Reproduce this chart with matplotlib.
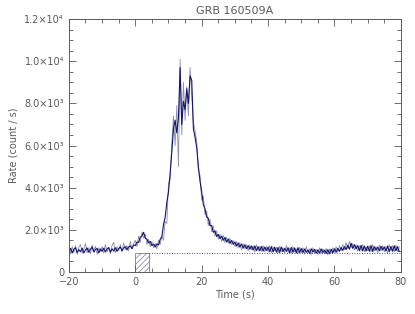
import numpy as np
import matplotlib
matplotlib.use("Agg")
import matplotlib.pyplot as plt

# light curve, 0.5 s bins from -20 s to 79.5 s
t_start, t_step = -20.0, 0.5
rate_main = [
    950, 1120, 900, 1080, 1150, 920, 1060, 960, 1130, 900, 1050, 1140, 930, 1080, 1180, 940, 1060, 1120, 900, 1090,
    980, 1130, 950, 1090, 1160, 940, 1100, 990, 1150, 980, 1110, 1180, 1000, 1140, 1200, 1050, 1190, 1230, 1100, 1280,
    1250, 1420, 1400, 1650, 1700, 1880, 1600, 1560, 1380, 1450, 1250, 1320, 1180, 1330, 1280, 1550, 1680, 2250, 2600, 3300,
    3800, 4700, 5700, 6800, 7200, 6600, 7300, 9700, 7000, 8100, 7700, 8700, 8000, 9300, 9100, 6800, 6400, 5900, 5000, 4300,
    3800, 3200, 3000, 2600, 2550, 2200, 2200, 1880, 1950, 1680, 1780, 1580, 1700, 1500, 1640, 1420, 1560, 1360, 1490, 1310,
    1420, 1230, 1370, 1180, 1320, 1130, 1290, 1100, 1250, 1080, 1230, 1040, 1230, 1010, 1200, 1000, 1210, 990, 1180, 1020,
    1180, 960, 1200, 950, 1170, 940, 1160, 930, 1180, 960, 1120, 980, 1150, 910, 1160, 930, 1140, 900, 1150, 920,
    1110, 920, 1090, 930, 1050, 880, 1100, 940, 1070, 890, 1050, 900, 1090, 920, 1040, 880, 1060, 860, 1080, 910,
    1100, 930, 1120, 980, 1160, 1020, 1200, 1060, 1270, 1080, 1360, 1120, 1290, 1090, 1250, 1010, 1260, 1000, 1230, 990,
    1220, 980, 1250, 970, 1200, 1030, 1180, 1000, 1220, 1040, 1190, 990, 1230, 960, 1210, 980, 1240, 1000, 1200, 980,
]
rate_raw = [
    1150, 850, 1200, 900, 1250, 820, 1180, 1300, 880, 1100, 1350, 900, 1150, 850, 1280, 1000, 1220, 830, 1150, 950,
    1200, 880, 1300, 950, 1150, 860, 1250, 1400, 900, 1200, 1000, 1300, 950, 1380, 1050, 1250, 1000, 1450, 1100, 1350,
    1500, 1200, 1700, 1400, 1900, 1600, 1800, 1300, 1550, 1200, 1450, 1150, 1350, 1100, 1500, 1300, 1700, 1500, 2400, 2300,
    4200, 4400, 6100, 7400, 6000, 7900, 5000, 10100, 6500, 9000, 7200, 8800, 7400, 9700, 8400, 7100, 6700, 6200, 4800, 4600,
    3400, 3600, 2700, 2900, 2200, 2500, 1900, 2200, 1700, 1950, 1550, 1800, 1450, 1750, 1400, 1650, 1350, 1600, 1300, 1500,
    1200, 1450, 1150, 1400, 1050, 1350, 1100, 1300, 1000, 1280, 1050, 1250, 950, 1300, 1000, 1220, 980, 1250, 950, 1200,
    950, 1250, 900, 1200, 1000, 1180, 880, 1220, 950, 1150, 900, 1250, 920, 1150, 880, 1200, 950, 1100, 850, 1180,
    900, 1150, 850, 1200, 880, 1100, 820, 1150, 900, 1080, 830, 1150, 870, 1100, 850, 1120, 800, 1100, 880, 1150,
    920, 1200, 950, 1250, 1000, 1300, 1050, 1400, 1100, 1450, 1150, 1350, 1050, 1300, 980, 1250, 1000, 1300, 950, 1200,
    1000, 1250, 950, 1300, 980, 1200, 920, 1280, 1000, 1250, 950, 1200, 900, 1300, 1000, 1250, 950, 1280, 980, 1200,
]
background = 900
bkg_interval = (0.0, 4.0)
y_ticks = [0, 2000, 4000, 6000, 8000, 10000, 12000]
y_labels = ["0", "2.0×10³", "4.0×10³", "6.0×10³", "8.0×10³", "1.0×10⁴", "1.2×10⁴"]
x_ticks = [-20, 0, 20, 40, 60, 80]

times = t_start + t_step * np.arange(len(rate_main))

grey = "#5a5a5a"
plt.rcParams["font.family"] = "DejaVu Sans"
plt.rcParams["font.size"] = 7
plt.rcParams["hatch.linewidth"] = 0.5
plt.rcParams["hatch.color"] = "#7070a0"

fig = plt.figure(figsize=(4.15, 3.14), dpi=100)
ax = fig.add_axes([0.166, 0.134, 0.800, 0.805])

ax.plot(times, rate_raw, color="#8c8cab", lw=0.6)
ax.plot(times, rate_main, color="#14146b", lw=0.8)

ax.fill_between(bkg_interval, 0, background, facecolor="none", edgecolor="#7a7a9a",
                hatch="//////", lw=0.6)
ax.plot([bkg_interval[1], 80], [background, background], ls=(0, (1, 2)),
        color="#14146b", lw=0.6)

ax.set_xlim(-20, 80)
ax.set_ylim(0, 12000)
ax.set_xticks(x_ticks)
ax.set_xticks(np.arange(-20, 81, 5), minor=True)
ax.set_yticks(y_ticks, y_labels)
ax.set_yticks(np.arange(0, 12001, 500), minor=True)
ax.tick_params(which="both", direction="in", top=True, right=True, colors=grey,
               labelcolor=grey, width=0.6)
ax.tick_params(which="major", length=5)
ax.tick_params(which="minor", length=3)
for s in ax.spines.values():
    s.set_color(grey)
    s.set_linewidth(0.7)

ax.set_xlabel("Time (s)", color=grey, labelpad=2)
ax.set_ylabel("Rate (count / s)", color=grey, labelpad=4)
ax.set_title("GRB 160509A", color=grey, fontsize=8, pad=4)

fig.savefig("out.png", dpi=100)
